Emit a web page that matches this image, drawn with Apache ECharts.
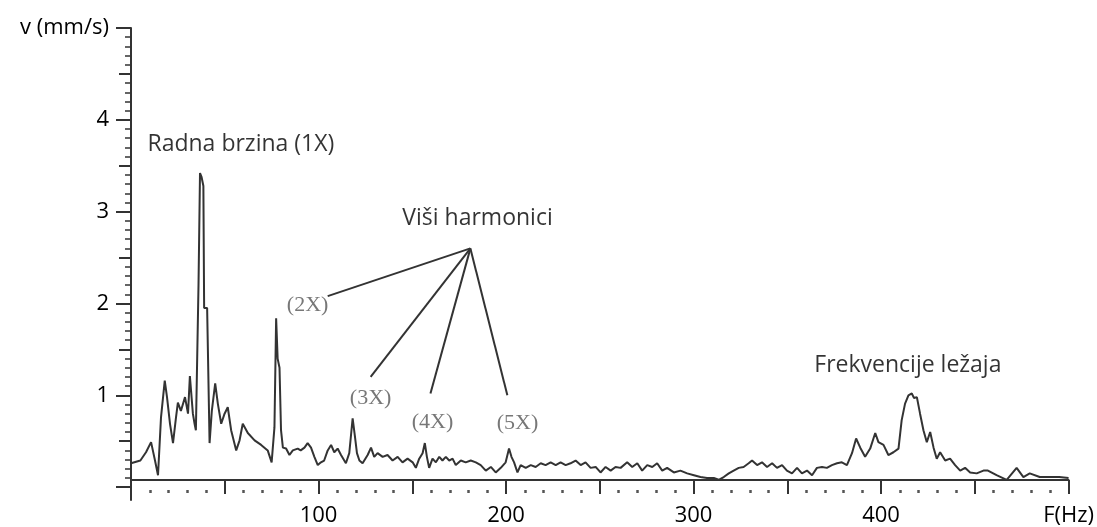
<!DOCTYPE html>
<html>
<head>
<meta charset="utf-8">
<script src="https://cdn.jsdelivr.net/npm/echarts@6/dist/echarts.min.js"></script>
<style>
html,body{margin:0;padding:0;background:#fff;}
#chart{width:1097px;height:527px;}
</style>
</head>
<body>
<div id="chart"></div>
<script>
// Spectrum: frequency (Hz) and velocity (mm/s)
var freqHz = [0,1,5,8,10.7,12.8,14.4,16,18,19.2,20.8,22.4,24,25,26.6,28.8,30.4,31.4,33,33.9,34.6,
  36.0,36.8,37.6,38.6,39.0,40.6,41.9,43.1,44.9,46.3,48.1,49.9,51.6,53.4,56.1,57.9,59.6,62.3,65.9,69.4,72.9,75,76.5,77.4,78.2,79.2,80,81,82.7,84.5,86.3,88.9,90.5,92.5,94.2,96,97.8,99.6,
  101.3,103,104.9,106.7,108.4,110.2,112,114.6,116.4,118.2,119.5,120.5,121.8,123.5,126.2,128,129.7,131.5,134.2,136.8,139.5,142.2,144.8,147.5,150.2,151.9,153.7,155.5,156.7,157.8,159,160.8,162.6,164.4,166.1,167.9,169.7,171.5,173.2,175.9,178.5,181.2,183.9,186.5,189.2,191.9,194.5,197.2,199.8,
  201.6,202.9,204.3,206.1,207.8,210.5,213.2,215.8,218.5,221.1,223.8,226.5,229.1,231.8,234.4,237.1,239.8,242.4,245.1,247.8,250.4,253.1,255.8,258.4,261.1,264.6,267.3,270,272.6,275.3,278,280.6,283.3,285.9,289.5,293,296.6,
  300.2,303.7,307.2,310.8,313.4,316.1,318.8,321.4,324.1,326.7,329.4,331.2,333.9,336.5,339.2,341.9,344.5,347.2,349.8,352.5,355.2,357.8,360.5,363.2,365.8,368.5,371.1,373.8,376.5,379.1,381.8,384.5,386.7,388.9,391.5,394.2,396.9,398.6,
  401.3,403.9,406.6,409.3,411,412.8,414.6,416.4,417.6,419.1,420.8,422.6,424.4,426.2,428,429.7,431.5,434.2,436.8,439.5,442.2,444.8,447.5,451,454.6,457,461.6,467,472.3,475.9,479.3,484.6,490,495,500];
var velocity = [0.26,0.26,0.29,0.38,0.49,0.29,0.13,0.76,1.16,0.98,0.69,0.48,0.76,0.92,0.83,0.98,0.80,1.21,0.80,0.69,0.62,
  2.2,3.42,3.38,3.28,1.95,1.95,0.48,0.83,1.13,0.91,0.69,0.80,0.87,0.62,0.40,0.51,0.69,0.59,0.51,0.46,0.40,0.27,0.65,1.84,1.40,1.30,0.62,0.43,0.42,0.35,0.40,0.42,0.40,0.43,0.48,0.43,0.33,0.24,
  0.27,0.29,0.40,0.46,0.38,0.42,0.35,0.26,0.37,0.75,0.54,0.37,0.29,0.26,0.35,0.43,0.33,0.37,0.33,0.35,0.29,0.33,0.27,0.31,0.27,0.21,0.31,0.37,0.48,0.33,0.21,0.31,0.27,0.33,0.29,0.33,0.29,0.31,0.24,0.29,0.27,0.29,0.27,0.24,0.18,0.22,0.16,0.21,0.27,
  0.42,0.33,0.27,0.16,0.24,0.21,0.24,0.22,0.26,0.24,0.27,0.24,0.27,0.24,0.26,0.29,0.24,0.27,0.21,0.22,0.16,0.22,0.18,0.22,0.21,0.27,0.22,0.26,0.18,0.24,0.22,0.26,0.18,0.21,0.16,0.18,0.15,
  0.13,0.11,0.10,0.10,0.08,0.11,0.15,0.18,0.21,0.22,0.26,0.29,0.24,0.27,0.22,0.26,0.21,0.24,0.18,0.15,0.21,0.15,0.18,0.13,0.21,0.22,0.21,0.24,0.26,0.27,0.24,0.37,0.53,0.43,0.33,0.42,0.59,0.49,
  0.46,0.35,0.38,0.42,0.73,0.91,1.00,1.02,0.97,0.98,0.80,0.62,0.49,0.60,0.43,0.31,0.38,0.29,0.31,0.24,0.18,0.21,0.16,0.15,0.18,0.18,0.13,0.08,0.21,0.11,0.15,0.11,0.11,0.11,0.10];

// Axis ticks / labels
var xLabelValues = [100,200,300,400,500];
var xEndLabel = 'F(Hz)';
var xMajorTicks = [50,100,150,200,250,300,350,400,450,500];
var yLabelValues = [1,2,3,4,5];
var yTopLabel = 'v (mm/s)';
var yMajorTicks = [0,1,2,3,4,5];
var yMidTicks = [0.5,1.5,2.5,3.5,4.5];

var xMinorTicks = [];
for (var i = 10; i < 500; i += 10) { if (i % 50 !== 0) xMinorTicks.push(i); }
var yMinorTicks = [];
for (var j = 1; j < 50; j++) { if (j % 5 !== 0) yMinorTicks.push(j / 10); }

// Annotation texts
var annoText = ['Radna brzina (1X)','Viši harmonici','Frekvencije ležaja','(2X)','(3X)','(4X)','(5X)'];
var annoX = [58.6,184.8,414.3,94.2,127.8,160.8,206.1];
var annoY = [3.73,2.93,1.32,1.98,0.97,0.71,0.70];
var annoSerif = [false,false,false,true,true,true,true];

// Leader lines from "Viši harmonici" to the harmonics
var leaderFrom = [181.0,2.60];
var leaderToX = [104.9,127.8,159.7,200.7];
var leaderToY = [2.08,1.20,1.02,1.00];

var spectrum = freqHz.map(function(f,k){return [f, velocity[k]];});

var textData = annoText.map(function(t,k){
  return {
    value: [annoX[k], annoY[k]],
    label: annoSerif[k] ? {
      formatter: t, fontFamily: 'Liberation Serif', fontSize: 22, color: '#555'
    } : {
      formatter: t, fontFamily: 'Open Sans', fontSize: 23, color: '#000'
    }
  };
});

var leaderData = leaderToX.map(function(x,k){
  return [{coord: leaderFrom}, {coord: [x, leaderToY[k]]}];
});

var axisColor = '#333';
var chart = echarts.init(document.getElementById('chart'), null, {renderer:'canvas'});
var yBase = {type:'value', min:-0.14, max:5, position:'left', splitLine:{show:false}};
var xBase = {type:'value', min:0, max:500, position:'bottom', splitLine:{show:false}};

chart.setOption({
  backgroundColor:'#fff',
  animation:false,
  grid:{left:131, right:24, top:28, bottom:27, containLabel:false},
  xAxis:[
    Object.assign({}, xBase, {
      axisLine:{onZero:false, show:true, lineStyle:{color:axisColor, width:2}},
      offset:-20,
      axisTick:{show:true, customValues:xMajorTicks, length:14, lineStyle:{color:axisColor, width:2}},
      axisLabel:{show:true, customValues:xLabelValues, margin:25, fontFamily:'Open Sans', fontSize:22, color:'#000',
        formatter:function(v){ return v === 500 ? xEndLabel : String(v); }}
    }),
    Object.assign({}, xBase, {
      axisLine:{onZero:false, show:false},
      offset:-10,
      axisTick:{show:true, customValues:xMinorTicks, length:3, lineStyle:{color:'#555', width:2.5}},
      axisLabel:{show:false}
    })
  ],
  yAxis:[
    Object.assign({}, yBase, {
      axisLine:{show:true, onZero:false, lineStyle:{color:axisColor, width:2}},
      axisTick:{show:true, customValues:yMajorTicks, length:15, lineStyle:{color:axisColor, width:2}},
      axisLabel:{show:true, customValues:yLabelValues, margin:22, fontFamily:'Open Sans', fontSize:22, color:'#000',
        formatter:function(v){ return v === 5 ? yTopLabel : String(v); }}
    }),
    Object.assign({}, yBase, {
      axisLine:{show:false, onZero:false},
      axisTick:{show:true, customValues:yMidTicks, length:12, lineStyle:{color:axisColor, width:2}},
      axisLabel:{show:false}
    }),
    Object.assign({}, yBase, {
      axisLine:{show:false, onZero:false},
      axisTick:{show:true, customValues:yMinorTicks, length:6, lineStyle:{color:axisColor, width:1.5}},
      axisLabel:{show:false}
    })
  ],
  series:[
    {
      type:'line',
      xAxisIndex:0, yAxisIndex:0,
      data: spectrum,
      showSymbol:false,
      symbol:'none',
      lineStyle:{color:'#333', width:2},
      z:3,
      markLine:{
        silent:true,
        symbol:['none','none'],
        label:{show:false},
        lineStyle:{color:'#333', width:2, type:'solid'},
        data: leaderData
      }
    },
    {
      type:'scatter',
      xAxisIndex:0, yAxisIndex:0,
      symbolSize:0,
      silent:true,
      label:{show:true, position:'inside'},
      data: textData,
      z:5
    }
  ]
});
</script>
</body>
</html>
